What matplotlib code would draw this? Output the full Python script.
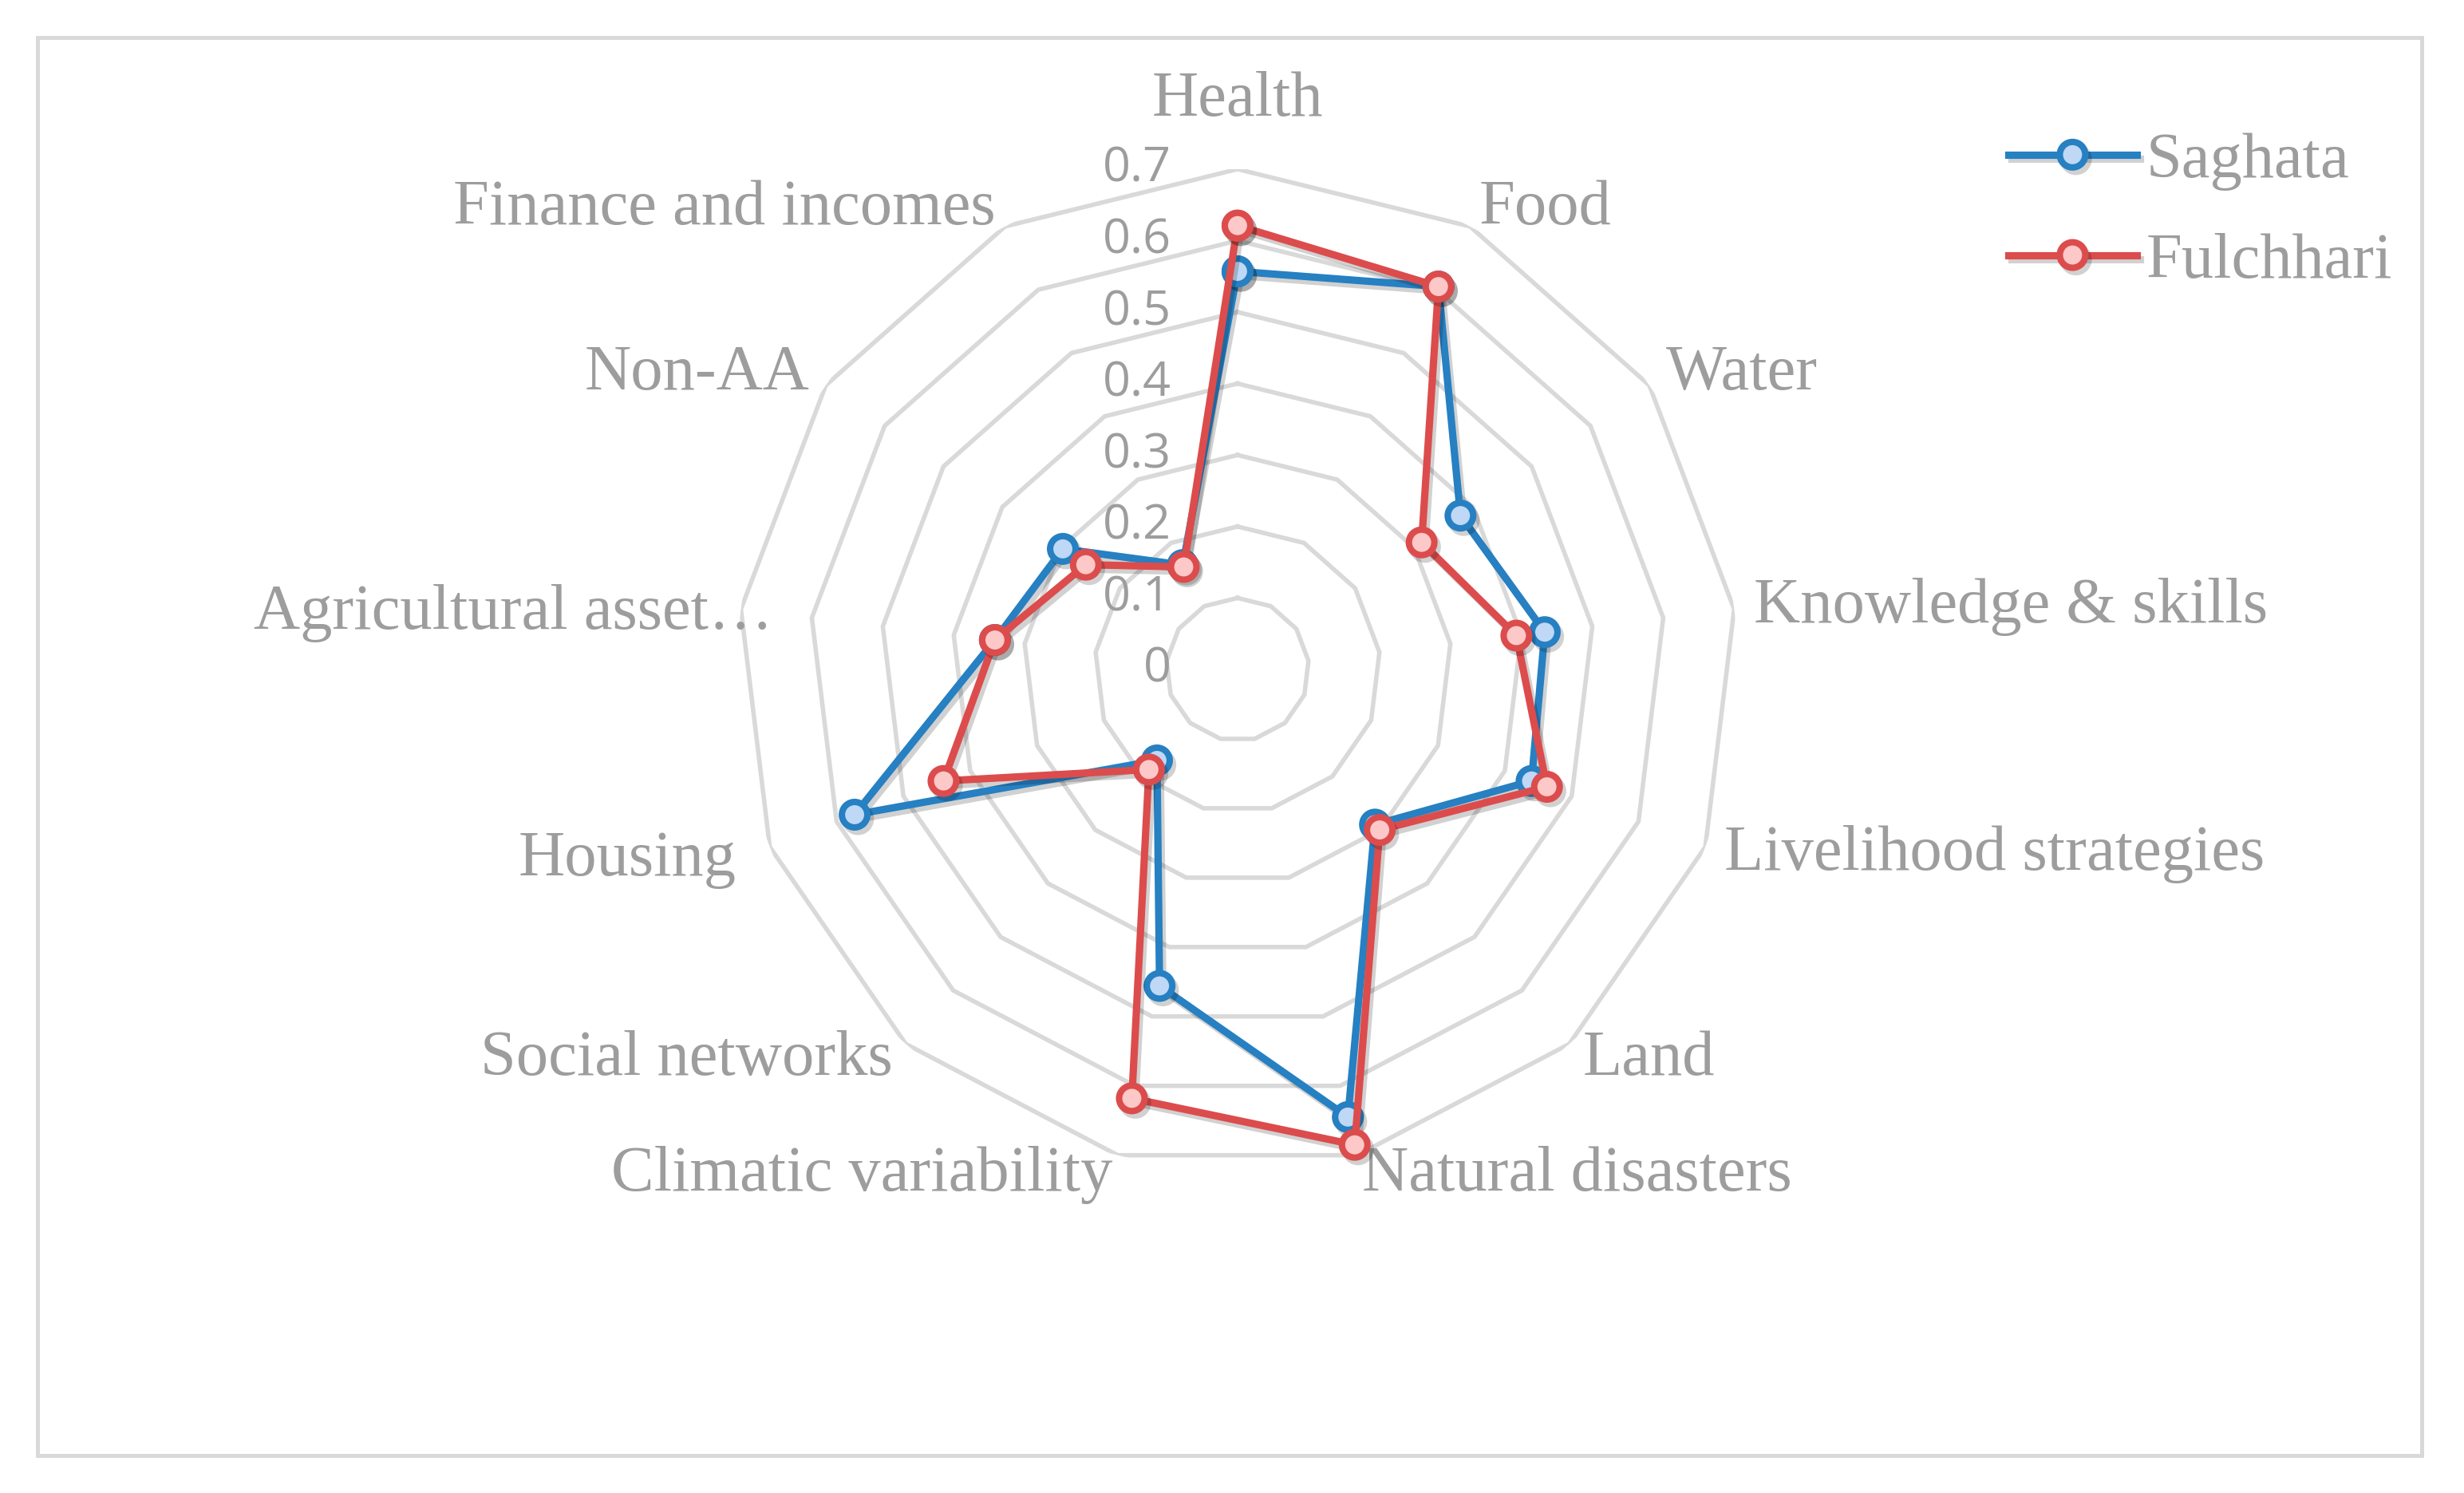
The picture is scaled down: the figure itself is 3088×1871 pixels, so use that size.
import numpy as np
import matplotlib
matplotlib.use('Agg')
import matplotlib.pyplot as plt
import matplotlib.patheffects as pe
from matplotlib.patches import Rectangle
from matplotlib.transforms import offset_copy

# data
categories = ['Health', 'Food', 'Water', 'Knowledge & skills', 'Livelihood strategies',
              'Land', 'Natural disasters', 'Climatic variability', 'Social networks',
              'Housing', 'Agricultural asset…', 'Non-AA', 'Finance and incomes']
saghata = [0.557, 0.605, 0.379, 0.433, 0.440, 0.290, 0.645, 0.456, 0.170, 0.573, 0.342, 0.297, 0.165]
fulchhari = [0.621, 0.605, 0.313, 0.393, 0.463, 0.300, 0.685, 0.618, 0.187, 0.440, 0.342, 0.258, 0.162]
ticks = [0, 0.1, 0.2, 0.3, 0.4, 0.5, 0.6, 0.7]
tick_labels = ['0', '0.1', '0.2', '0.3', '0.4', '0.5', '0.6', '0.7']

grey = '#9d9d9d'
serif = ['Liberation Serif', 'DejaVu Serif']

fig = plt.figure(figsize=(15.44, 9.355), dpi=200)
ax = fig.add_axes([0.2992, 0.2165, 0.4061, 0.6702], projection='polar')
ax.set_theta_offset(np.pi / 2)
ax.set_theta_direction(-1)
ax.set_ylim(0, 0.7)
ax.grid(False)
ax.set_xticks([])
ax.set_yticks([])
ax.spines['polar'].set_visible(False)
ax.patch.set_alpha(0)

n = len(categories)
angles = np.linspace(0, 2 * np.pi, n, endpoint=False)
closed = np.append(angles, angles[0])

# polygon gridlines
for r in ticks[1:]:
    ax.plot(closed, [r] * (n + 1), color='#d9d9d9', lw=2.0, zorder=1)

# radial tick labels, left of the top axis
tick_tr = offset_copy(ax.transData, fig=fig, x=-83, y=0, units='dots')
for r, lab in zip(ticks, tick_labels):
    ax.text(0, r, lab, transform=tick_tr, ha='right', va='center',
            fontsize=22, color=grey, family=['Open Sans', 'DejaVu Sans'])

shadow = [pe.SimpleLineShadow(offset=(1.5, -2), alpha=0.18, shadow_color='black'), pe.Normal()]

ax.plot(closed, saghata + saghata[:1], color='#2680c2', lw=3.3, marker='o', ms=11.5,
        mec='#2680c2', mew=2.9, mfc='#bed8f6', label='Saghata', zorder=3,
        clip_on=False, path_effects=shadow)
ax.plot(closed, fulchhari + fulchhari[:1], color='#dc4c4c', lw=3.3, marker='o', ms=11.5,
        mec='#dc4c4c', mew=2.9, mfc='#fcc8c8', label='Fulchhari', zorder=4,
        clip_on=False, path_effects=shadow)

# category labels
label_r = {'Agricultural asset…': 0.655, 'Housing': 0.75}
for ang, cat in zip(angles, categories):
    s = np.sin(ang)
    if abs(s) < 0.01:
        ax.text(ang, 0.797, cat, ha='center', va='center', fontsize=29,
                color=grey, family=serif)
        continue
    ha = 'left' if s > 0 else 'right'
    ax.text(ang, label_r.get(cat, 0.728), cat, ha=ha, va='center', fontsize=29,
            color=grey, family=serif)

leg = fig.legend(loc='upper left', bbox_to_anchor=(0.802, 0.933), frameon=False,
                 handlelength=2.0, handletextpad=0.15, labelspacing=0.65,
                 borderpad=0, prop={'family': serif, 'size': 29})
for t in leg.get_texts():
    t.set_color(grey)

fig.patches.append(Rectangle((0.0152, 0.0251), 0.9676, 0.9498, transform=fig.transFigure,
                             fill=False, edgecolor='#d9d9d9', lw=1.8))

fig.savefig('out.png', dpi=200)
